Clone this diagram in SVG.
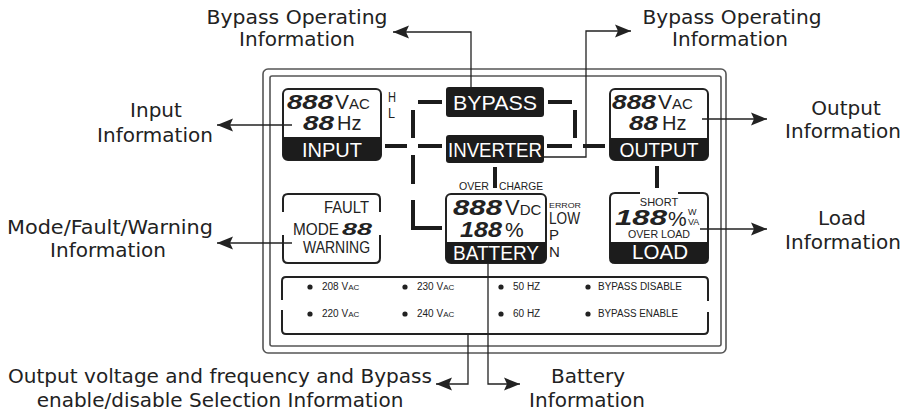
<svg xmlns="http://www.w3.org/2000/svg" width="910" height="414" viewBox="0 0 910 414">
<defs>
<style>
.lbl{font-family:"DejaVu Sans",sans-serif;font-size:20px;fill:#222;text-anchor:middle}
.t{font-family:"Liberation Sans",Arial,sans-serif;fill:#222}
.w{font-family:"Liberation Sans",Arial,sans-serif;fill:#fff;text-anchor:middle}
.d{font-family:"Liberation Sans",Arial,sans-serif;font-weight:bold;font-style:italic;fill:#222}
.box{fill:none;stroke:#222;stroke-width:2}
.band{fill:#1c1c1c}
.dash{fill:none;stroke:#1c1c1c;stroke-width:4}
.lead{fill:none;stroke:#222;stroke-width:1.3;marker-end:url(#ah)}
.frame{fill:none;stroke:#555;stroke-width:1.6}
.sel{font-family:"Liberation Sans",Arial,sans-serif;font-size:10px;fill:#222}
</style>
<marker id="ah" markerUnits="userSpaceOnUse" markerWidth="18" markerHeight="14" viewBox="0 -7 18 14" refX="16" refY="0" orient="auto">
<path d="M0,-6.5 L16,0 L0,6.5 L3,0 Z" fill="#222"/>
</marker>
</defs>

<g id="frame">
<rect class="frame" x="263" y="69" width="463" height="284" rx="5"/>
<rect class="frame" x="270" y="76" width="451" height="270" rx="2"/>
</g>

<g id="connectors">
<path class="dash" d="M418,102H442M548,102H572M575,110V138M385,146H407M418,146H442M547,146H572M583,146H605M413,110V138M413,155V184M413,200V228H442M495,167V188M657,166V188"/>
<path class="lead" d="M471,87V32H393"/>
<path class="lead" d="M544,157H586V31H631"/>
<path class="lead" d="M292,125H217"/>
<path class="lead" d="M292,243H217"/>
<path class="lead" d="M702,119H767"/>
<path class="lead" d="M700,229H767"/>
<path class="lead" d="M468,334V384H436"/>
<path class="lead" d="M488,263V384H520"/>
</g>

<g id="input">
<rect class="box" x="283" y="89" width="98" height="71" rx="5"/>
<path class="band" d="M283,137H381V155Q381,160 376,160H288Q283,160 283,155Z"/>
<text class="d" x="287" y="109" font-size="21" textLength="46" lengthAdjust="spacingAndGlyphs">888</text>
<text class="t" x="335" y="109" font-size="21">V<tspan font-size="15">AC</tspan></text>
<text class="d" x="303" y="130" font-size="21" textLength="31" lengthAdjust="spacingAndGlyphs">88</text>
<text class="t" x="337" y="130" font-size="20">Hz</text>
<text class="t" x="388" y="102" font-size="14" textLength="8" lengthAdjust="spacingAndGlyphs">H</text>
<text class="t" x="388" y="118" font-size="14" textLength="7" lengthAdjust="spacingAndGlyphs">L</text>
<text class="w" x="332" y="157" font-size="20" textLength="60" lengthAdjust="spacingAndGlyphs">INPUT</text>
</g>

<g id="bypass">
<rect class="band" x="446" y="87" width="98" height="30" rx="3"/>
<text class="w" x="495" y="110" font-size="21" textLength="84" lengthAdjust="spacingAndGlyphs">BYPASS</text>
</g>

<g id="inverter">
<rect class="band" x="446" y="135" width="98" height="28" rx="3"/>
<text class="w" x="495" y="157" font-size="20" textLength="94" lengthAdjust="spacingAndGlyphs">INVERTER</text>
</g>

<g id="output">
<rect class="box" x="610" y="89" width="98" height="71" rx="5"/>
<path class="band" d="M610,138H708V155Q708,160 703,160H615Q610,160 610,155Z"/>
<text class="d" x="612" y="109" font-size="21" textLength="44" lengthAdjust="spacingAndGlyphs">888</text>
<text class="t" x="658" y="109" font-size="21">V<tspan font-size="15">AC</tspan></text>
<text class="d" x="629" y="130" font-size="21" textLength="29" lengthAdjust="spacingAndGlyphs">88</text>
<text class="t" x="662" y="130" font-size="20">Hz</text>
<text class="w" x="659" y="157" font-size="20" textLength="79" lengthAdjust="spacingAndGlyphs">OUTPUT</text>
</g>

<g id="overcharge">
<text class="t" x="459" y="190" font-size="11" textLength="30" lengthAdjust="spacingAndGlyphs">OVER</text>
<text class="t" x="499" y="190" font-size="11" textLength="44" lengthAdjust="spacingAndGlyphs">CHARGE</text>
</g>

<g id="mode">
<path class="box" d="M283,212V199Q283,194 288,194H375Q380,194 380,199V212M283,235V258Q283,263 288,263H375Q380,263 380,258V235"/>
<text class="t" x="369" y="213" font-size="16" text-anchor="end" textLength="45" lengthAdjust="spacingAndGlyphs">FAULT</text>
<text class="t" x="293" y="235" font-size="16" textLength="46" lengthAdjust="spacingAndGlyphs">MODE</text>
<text class="d" x="342" y="235" font-size="17" textLength="30" lengthAdjust="spacingAndGlyphs">88</text>
<text class="t" x="303" y="253" font-size="16" textLength="67" lengthAdjust="spacingAndGlyphs">WARNING</text>
</g>

<g id="battery">
<rect class="box" x="446" y="194" width="100" height="69" rx="5"/>
<path class="band" d="M446,242H546V258Q546,263 541,263H451Q446,263 446,258Z"/>
<text class="d" x="453" y="215" font-size="22" textLength="49" lengthAdjust="spacingAndGlyphs">888</text>
<text class="t" x="505" y="215" font-size="22">V<tspan font-size="15">DC</tspan></text>
<text class="d" x="460" y="237" font-size="22" textLength="42" lengthAdjust="spacingAndGlyphs">188</text>
<text class="t" x="505" y="237" font-size="21">%</text>
<text class="w" x="496" y="260" font-size="20" textLength="86" lengthAdjust="spacingAndGlyphs">BATTERY</text>
<text class="t" x="549" y="208" font-size="8" textLength="32" lengthAdjust="spacingAndGlyphs">ERROR</text>
<text class="t" x="549" y="224" font-size="16" textLength="31" lengthAdjust="spacingAndGlyphs">LOW</text>
<text class="t" x="549" y="240" font-size="15">P</text>
<text class="t" x="549" y="257" font-size="15">N</text>
</g>

<g id="load">
<path class="box" d="M640,193H615Q610,193 610,198V258Q610,263 615,263H703Q708,263 708,258V198Q708,193 703,193H678"/>
<path class="band" d="M610,242H708V258Q708,263 703,263H615Q610,263 610,258Z"/>
<text class="t" x="659" y="206" font-size="11" text-anchor="middle">SHORT</text>
<text class="d" x="615" y="225" font-size="22" textLength="52" lengthAdjust="spacingAndGlyphs">188</text>
<text class="t" x="668" y="226" font-size="21">%</text>
<text class="t" x="688" y="215" font-size="9">W</text>
<text class="t" x="688" y="225" font-size="9">VA</text>
<text class="t" x="659" y="238" font-size="11" text-anchor="middle" textLength="62" lengthAdjust="spacingAndGlyphs">OVER LOAD</text>
<text class="w" x="660" y="259" font-size="21" textLength="56" lengthAdjust="spacingAndGlyphs">LOAD</text>
</g>

<g id="selection">
<path class="box" d="M282,300V281Q282,277 286,277H704Q708,277 708,281V301M282,310V330Q282,334 286,334H704Q708,334 708,330V312"/>
<g fill="#222">
<circle cx="310" cy="287" r="2.6"/><circle cx="405" cy="287" r="2.6"/><circle cx="501" cy="287" r="2.6"/><circle cx="588" cy="287" r="2.6"/>
<circle cx="310" cy="314" r="2.6"/><circle cx="405" cy="314" r="2.6"/><circle cx="501" cy="314" r="2.6"/><circle cx="588" cy="314" r="2.6"/>
</g>
<text class="sel" x="322" y="290">208 V<tspan font-size="8">AC</tspan></text>
<text class="sel" x="417" y="290">230 V<tspan font-size="8">AC</tspan></text>
<text class="sel" x="513" y="290">50 HZ</text>
<text class="sel" x="598" y="290" textLength="84" lengthAdjust="spacingAndGlyphs">BYPASS DISABLE</text>
<text class="sel" x="322" y="317">220 V<tspan font-size="8">AC</tspan></text>
<text class="sel" x="417" y="317">240 V<tspan font-size="8">AC</tspan></text>
<text class="sel" x="513" y="317">60 HZ</text>
<text class="sel" x="598" y="317" textLength="80" lengthAdjust="spacingAndGlyphs">BYPASS ENABLE</text>
</g>

<g id="labels">
<text class="lbl" x="297" y="24" textLength="181" lengthAdjust="spacingAndGlyphs">Bypass Operating</text>
<text class="lbl" x="297" y="46">Information</text>
<text class="lbl" x="732" y="24" textLength="179" lengthAdjust="spacingAndGlyphs">Bypass Operating</text>
<text class="lbl" x="730" y="46">Information</text>
<text class="lbl" x="156" y="117">Input</text>
<text class="lbl" x="155" y="142">Information</text>
<text class="lbl" x="110" y="234" textLength="206" lengthAdjust="spacingAndGlyphs">Mode/Fault/Warning</text>
<text class="lbl" x="108" y="257">Information</text>
<text class="lbl" x="846" y="115">Output</text>
<text class="lbl" x="843" y="138">Information</text>
<text class="lbl" x="842" y="225">Load</text>
<text class="lbl" x="843" y="249">Information</text>
<text class="lbl" x="220" y="383" textLength="424" lengthAdjust="spacingAndGlyphs">Output voltage and frequency and Bypass</text>
<text class="lbl" x="220" y="407">enable/disable Selection Information</text>
<text class="lbl" x="588" y="383">Battery</text>
<text class="lbl" x="587" y="407">Information</text>
</g>
</svg>
